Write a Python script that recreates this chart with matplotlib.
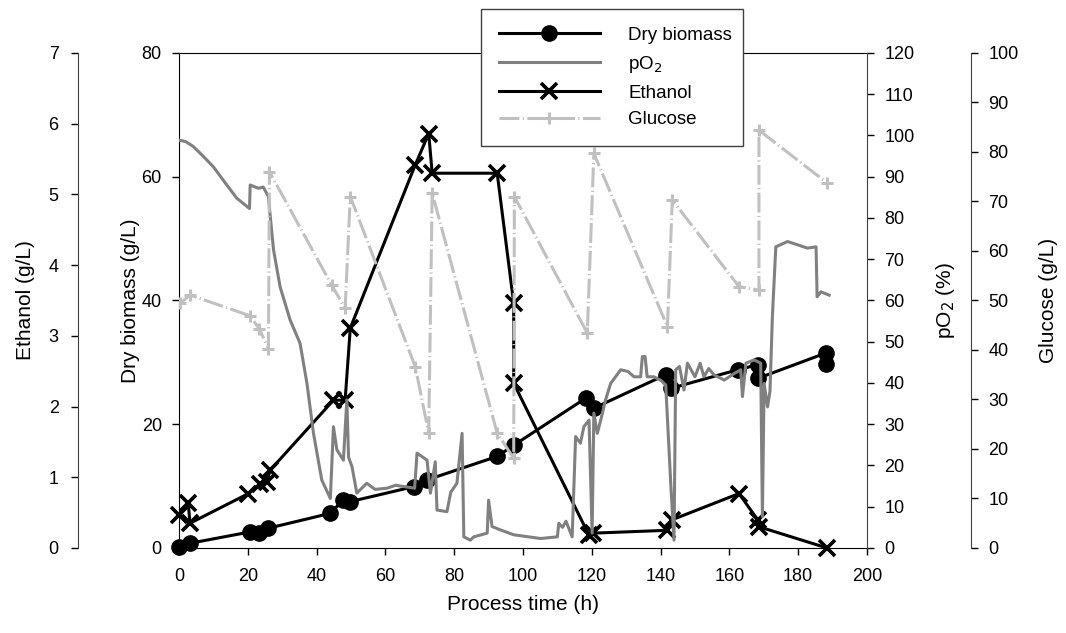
"""
Fed-batch fermentation time course: dry biomass, ethanol, pO2 and glucose
on four y-axes sharing one process-time axis.
"""

import matplotlib
matplotlib.use("Agg")
import matplotlib.pyplot as plt
from matplotlib.lines import Line2D

plt.rcParams["font.family"] = ["Liberation Sans", "DejaVu Sans"]
plt.rcParams["font.size"] = 13

# ── Data ────────────────────────────────────────────────────────
biomass_t = [0, 3.2, 20.7, 23.4, 26, 44, 47.8, 49.8, 68.2, 72.1, 92.5, 97.3,
             118.2, 120.6, 141.5, 143, 162.4, 168.2, 168.2, 188, 188]
biomass = [0.2, 0.76, 2.6, 2.4, 3.2, 5.6, 7.8, 7.5, 9.9, 11.0, 14.8, 16.6,
           24.2, 22.6, 28.0, 25.8, 28.8, 29.6, 27.4, 31.5, 29.8]

ethanol_t = [0, 2.7, 3.2, 20.2, 23.6, 25.5, 26.5, 44.9, 48.3, 49.8, 68.7, 72.6,
             73.6, 92.5, 97.3, 97.3, 119.2, 120.5, 142, 143.4, 162.8, 168.2,
             168.6, 188.4]
ethanol = [0.47, 0.63, 0.35, 0.77, 0.91, 0.93, 1.1, 2.09, 2.09, 3.11, 5.42, 5.86,
           5.30, 5.30, 3.46, 2.33, 0.18, 0.21, 0.25, 0.40, 0.77, 0.40,
           0.30, 0.0]

glucose_t = [0.3, 3.2, 20.7, 23.4, 26, 26.3, 44.4, 48.3, 49.8, 68.7, 72.6, 73.6,
             92.5, 97.3, 97.5, 118.7, 120.6, 142, 143.4, 162.8, 168.6, 168.6, 188.5]
glucose = [49.4, 51.1, 46.9, 44.2, 40.3, 76.0, 53.1, 48.4, 71.0, 36.6, 23.2, 71.7,
           23.2, 18.1, 71.0, 43.4, 79.7, 44.7, 70.3, 52.8, 52.1, 84.4, 73.7]

po2_t = [0, 2, 4.2, 7, 10, 13.9, 16.8, 20.5, 20.7, 23.1, 24.5, 26, 26.5, 27.5,
         29.4, 32.3, 35.2, 37.2, 39.1, 41.5, 44, 44.9, 45.9, 47.8, 48.8, 49.3,
         50.3, 51.7, 54.6, 57, 60.5, 63, 65.3, 68.5, 69.2, 72.1, 73.1, 74.5, 75,
         77.9, 79, 80.8, 82.3, 82.8, 84.7, 85.7, 89.6, 90, 91, 93.4, 97.3, 105.1,
         110, 110.4, 111.5, 112.5, 114.3, 115.3, 116.7, 117.7, 119.2, 120.1,
         120.6, 121.6, 122.6, 124, 125.5, 128.4, 130.5, 132.3, 134.2, 134.7,
         135.5, 136.1, 138, 140, 141.5, 143, 143.9, 144.4, 145.5, 146.8, 147.8,
         150, 151.5, 152.6, 154, 155.5, 158.5, 161.4, 163.3, 163.8, 164.8, 167.2,
         169.1, 169.6, 170.1, 171.1, 171.8, 172.5, 173.5, 176.9, 179.8, 182.7,
         185.2, 185.5, 186.6, 189]
po2 = [98.9, 98.5, 97.3, 95, 92.4, 88, 84.8, 82.3, 88, 87.2, 87.5, 85.2, 80.7, 72.2,
       63.3, 55.3, 49.6, 39.9, 27.8, 16.5, 12, 29.4, 23.8, 21.3, 35.9, 22,
       19.7, 13.3, 15.7, 14.2, 14.5, 15.2, 14.9, 14.5, 23, 21.3, 13.3, 20.9, 9.2,
       8.8, 13.5, 15.7, 27.8, 2.7, 1.9, 2.7, 3.6, 11.6, 5.2, 4.4, 3.2, 2.3,
       2.7, 6, 5, 6.5, 2.7, 27, 25.4, 29.4, 31, 3.6,
       32.7, 27.8, 31, 35.9, 39.9, 43.2, 42.8, 41.5, 41.5, 46.4,
       46.4, 41.5, 41.5, 40.7, 39.5, 14.9, 1.9, 43.2, 44, 38.3, 44.8,
       41.5, 44.8, 41.5, 43.5, 42, 40.7, 42.3, 43.2, 36.7, 44.8, 45.6,
       44.8, 7.6, 39.9, 34.2, 38, 56.1, 73, 74.3, 73.5, 72.7,
       73, 60.9, 62.1, 61.3]

x_ticks = list(range(0, 201, 20))

# ── Styles ──────────────────────────────────────────────────────
LW = 2.2
PO2_GREY = "#808080"
GLU_GREY = "#c0c0c0"
GLU_DASH = (0, (6.5, 1.1, 0.4, 1.1))
AX_GREY = "#404040"

fig = plt.figure(figsize=(10.66, 6.33), dpi=100)
ax = fig.add_axes([0.1679, 0.1343, 0.6454, 0.782])
ax_eth = ax.twinx()
ax_po2 = ax.twinx()
ax_glu = ax.twinx()

# dry biomass (main axes)
ax.plot(biomass_t, biomass, color="black", lw=LW, marker="o", ms=11,
        clip_on=False, zorder=3)
ax.set_xlim(0, 200)
ax.set_ylim(0, 80)
ax.set_xticks(x_ticks)
ax.set_yticks(range(0, 81, 20))
ax.set_xlabel("Process time (h)", fontsize=15)
ax.set_ylabel("Dry biomass (g/L)", fontsize=15)
ax.xaxis.set_label_coords(0.5, -0.095)
ax.yaxis.set_label_coords(-0.057, 0.5)
ax.spines["right"].set_visible(False)
ax.tick_params(axis="x", pad=9)

# ethanol (outer left)
ax_eth.plot(ethanol_t, ethanol, color="black", lw=LW, marker="x", ms=12,
            mew=2.6, clip_on=False)
ax_eth.set_ylim(0, 7)
ax_eth.set_yticks(range(0, 8))
ax_eth.yaxis.set_ticks_position("left")
ax_eth.yaxis.set_label_position("left")
ax_eth.spines["left"].set_position(("outward", 72.4))
ax_eth.spines["left"].set_color(AX_GREY)
for s in ("right", "top", "bottom"):
    ax_eth.spines[s].set_visible(False)
ax_eth.set_ylabel("Ethanol (g/L)", fontsize=15)
ax_eth.yaxis.set_label_coords(-0.210, 0.5)

# pO2 (right spine of the plot box)
ax_po2.plot(po2_t, po2, color=PO2_GREY, lw=LW, solid_joinstyle="round")
ax_po2.set_ylim(0, 120)
ax_po2.set_yticks(range(0, 121, 10))
ax_po2.spines["right"].set_color(AX_GREY)
for s in ("left", "top", "bottom"):
    ax_po2.spines[s].set_visible(False)
ax_po2.set_ylabel("pO$_2$ (%)", fontsize=15)
ax_po2.yaxis.set_label_coords(1.097, 0.5)

# glucose (outer right)
ax_glu.plot(glucose_t, glucose, color=GLU_GREY, lw=LW, ls=GLU_DASH,
            marker="+", ms=9, mew=2.2)
ax_glu.set_ylim(0, 100)
ax_glu.set_yticks(range(0, 101, 10))
ax_glu.spines["right"].set_position(("outward", 74.9))
ax_glu.spines["right"].set_color(AX_GREY)
for s in ("left", "top", "bottom"):
    ax_glu.spines[s].set_visible(False)
ax_glu.set_ylabel("Glucose (g/L)", fontsize=15)
ax_glu.yaxis.set_label_coords(1.25, 0.5)

for a in (ax, ax_eth, ax_po2, ax_glu):
    a.tick_params(direction="out", length=5.2, width=1, labelsize=13)
for a in (ax, ax_po2, ax_glu):
    a.tick_params(axis="y", pad=7.2)
ax_eth.tick_params(axis="y", pad=9)

# legend, collected from all four series
handles = [
    Line2D([], [], color="black", lw=LW, marker="o", ms=11),
    Line2D([], [], color=PO2_GREY, lw=LW),
    Line2D([], [], color="black", lw=LW, marker="x", ms=12, mew=2.6),
    Line2D([], [], color=GLU_GREY, lw=LW, ls=GLU_DASH, marker="+", ms=9, mew=2.2),
]
labels = ["Dry biomass", "pO$_2$", "Ethanol", "Glucose"]
leg = ax_glu.legend(
    handles, labels,
    loc="upper left",
    bbox_to_anchor=(481 / 1066, 1 - 9 / 633, 262 / 1066, 0),
    bbox_transform=fig.transFigure,
    mode="expand",
    borderaxespad=0,
    handlelength=5.4,
    handletextpad=1.5,
    labelspacing=0.52,
    borderpad=0.95,
    fancybox=False,
    framealpha=1,
    edgecolor=AX_GREY,
    fontsize=13.5,
)
leg.get_frame().set_linewidth(1)

fig.savefig("out.png", dpi=100)
